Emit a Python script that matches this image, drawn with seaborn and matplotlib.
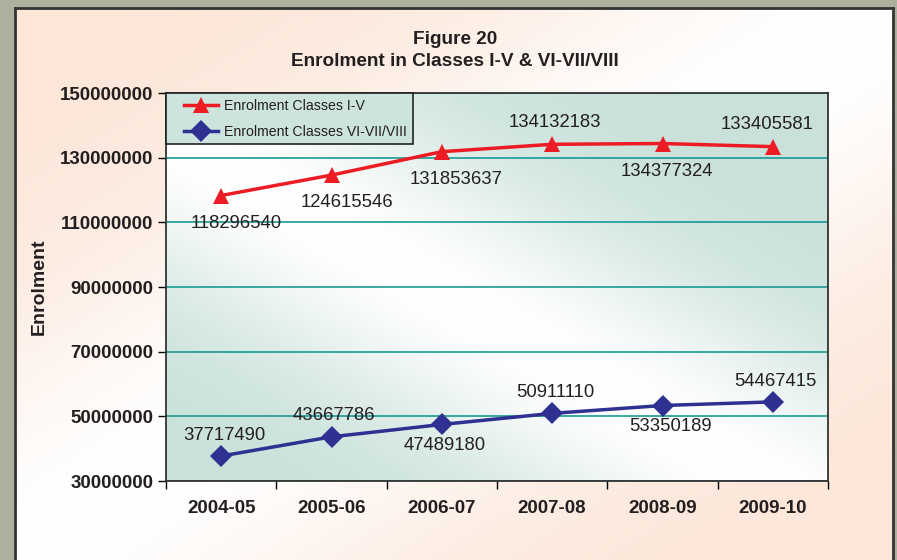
import numpy as np
import pandas as pd
import matplotlib
matplotlib.use('Agg')
import matplotlib.pyplot as plt
import seaborn as sns
from matplotlib.colors import to_rgb
from matplotlib.lines import Line2D
from matplotlib.legend_handler import HandlerLine2D

years = ['2004-05', '2005-06', '2006-07', '2007-08', '2008-09', '2009-10']
primary = [118296540, 124615546, 131853637, 134132183, 134377324, 133405581]
upper_primary = [37717490, 43667786, 47489180, 50911110, 53350189, 54467415]
series_names = ['Enrolment Classes I-V', 'Enrolment Classes VI-VII/VIII']

# where each value label sits: +1 above the point, -1 below
primary_side = [-1, -1, -1, 1, -1, 1]
upper_side = [1, 1, -1, 1, -1, 1]
primary_dx = [11, 11, 10, 2, 3, -4]
upper_dx = [2, 2, 2, 2, 6, 2]

red = '#ed1c24'
navy = '#2e3192'
ink = '#231f20'

plt.rcParams['font.family'] = ['Liberation Sans', 'DejaVu Sans']


def streak(base, w, h, width, anti=True, shift=0.0):
    # base colour with a soft white diagonal band
    yy, xx = np.mgrid[0:1:h * 1j, 0:1:w * 1j]
    d = (xx + yy - 1.0) if anti else (xx - yy + shift)
    t = np.exp(-(d / width) ** 2)[..., None]
    return np.array(to_rgb(base)) * (1 - t) + np.ones(3) * t


W, H = 897, 560
fig = plt.figure(figsize=(W / 100, H / 100), dpi=100)
fig.patch.set_facecolor('#adb09c')

# peach panel
bg = fig.add_axes([15 / W, 0, (893 - 15) / W, (560 - 8) / H])
bg.imshow(streak('#fce6d8', 300, 200, 0.45), aspect='auto', extent=[0, 1, 0, 1])
bg.set_xlim(0, 1)
bg.set_ylim(0, 1)
bg.set_xticks([])
bg.set_yticks([])
for s in bg.spines.values():
    s.set_color('#333333')
    s.set_linewidth(2)
bg.spines['bottom'].set_visible(False)

# plot area
ax = fig.add_axes([166 / W, (560 - 481) / H, 662 / W, 388 / H])
ax.imshow(streak('#c9e1da', 300, 200, 0.4, anti=False, shift=0.1), aspect='auto',
          extent=[-0.5, 5.5, 30000000, 150000000], zorder=0)

x = np.arange(len(years))
df = pd.DataFrame({
    'x': np.concatenate([x, x]),
    'value': primary + upper_primary,
    'series': [series_names[0]] * len(x) + [series_names[1]] * len(x),
})

sns.lineplot(data=df, x='x', y='value', hue='series', style='series',
             palette=[red, navy], markers=['^', 'D'], dashes=False,
             markersize=11, linewidth=2.5, markeredgewidth=0, ax=ax, zorder=3)

ax.set_xlim(-0.5, 5.5)
ax.set_ylim(30000000, 150000000)
ticks = list(range(30000000, 150000001, 20000000))
ax.set_yticks(ticks)
ax.set_yticklabels([str(v) for v in ticks], fontsize=13.5, fontweight='bold', color=ink)
ax.set_xticks(x)
ax.set_xticklabels(years, fontsize=13.5, fontweight='bold', color=ink)
ax.set_xticks(np.arange(-0.5, 6, 1), minor=True)
ax.tick_params(axis='x', which='major', length=0, pad=14)
ax.tick_params(axis='x', which='minor', length=6, width=1, direction='out')
ax.tick_params(axis='y', length=6, width=1, direction='out', pad=3)
ax.grid(axis='y', color='#1a9a94', linewidth=1.2, zorder=1)
ax.set_axisbelow(True)
for s in ax.spines.values():
    s.set_color('#333333')
    s.set_linewidth(1.3)

ax.set_xlabel('')
ax.set_ylabel('Enrolment', fontsize=14, fontweight='bold', color=ink, labelpad=9)

for xi, v, side, dx in zip(x, primary, primary_side, primary_dx):
    dy = 20 if side < 0 else 16
    ax.annotate(f'{v}', (xi, v), xytext=(dx, dy * side), textcoords='offset points',
                ha='center', va='center', fontsize=13.3, color=ink, zorder=4)
for xi, v, side, dx in zip(x, upper_primary, upper_side, upper_dx):
    ax.annotate(f'{v}', (xi, v), xytext=(dx, 15 * side), textcoords='offset points',
                ha='center', va='center', fontsize=13.3, color=ink, zorder=4)

leg = ax.legend(loc='upper left', bbox_to_anchor=(0, 1), borderaxespad=0,
                fontsize=10.2, frameon=True, fancybox=False, handlelength=3.3,
                borderpad=0.4, labelspacing=0.85, handletextpad=0.4,
                handler_map={Line2D: HandlerLine2D(xpad=0.9)})
leg.get_frame().set_facecolor('#cde3dd')
leg.get_frame().set_edgecolor('#222222')
leg.get_frame().set_linewidth(1.2)
leg.get_frame().set_alpha(1)
for t in leg.get_texts():
    t.set_color(ink)

fig.text(455 / W, 1 - 40 / H, 'Figure 20', ha='center', va='center',
         fontsize=13.7, fontweight='bold', color=ink)
fig.text(455 / W, 1 - 61 / H, 'Enrolment in Classes I-V & VI-VII/VIII', ha='center',
         va='center', fontsize=13.7, fontweight='bold', color=ink)

fig.savefig('out.png', dpi=100, facecolor=fig.get_facecolor())
